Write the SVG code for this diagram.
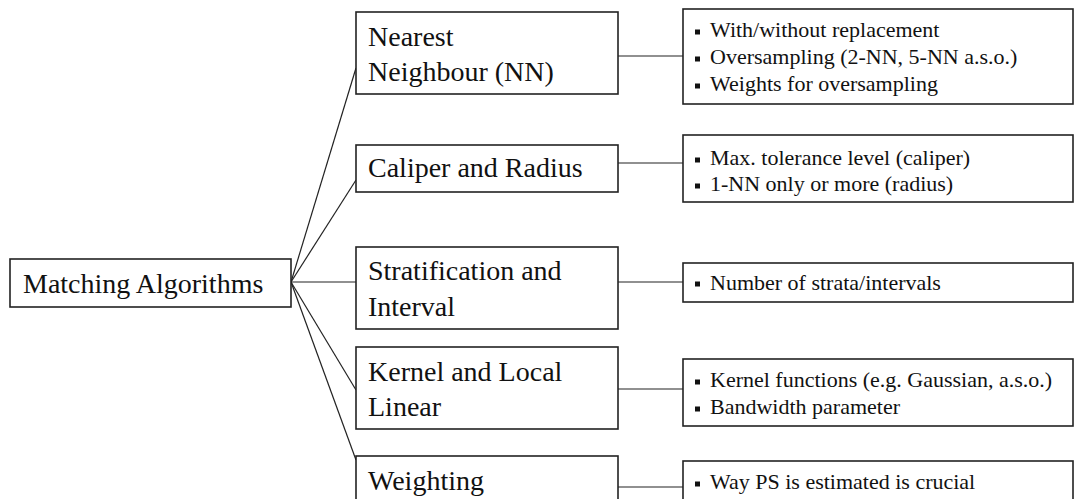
<svg xmlns="http://www.w3.org/2000/svg" width="1074" height="499" viewBox="0 0 1074 499">
<style>
.box{fill:#fff;stroke:#222;stroke-width:1.6}
.t{font-family:"Liberation Serif","Times New Roman",serif;fill:#111}
.m{font-size:28px}
.s{font-size:22px}
.c{stroke:#222;stroke-width:1.2;fill:none}
.b{fill:#111}
</style>
<defs>
<rect id="bul" width="5" height="5" class="b"/>
</defs>
<rect width="1074" height="499" fill="#fff"/>
<g id="connectors">
<line class="c" x1="291" y1="282" x2="356" y2="68"/>
<line class="c" x1="291" y1="282" x2="356" y2="180"/>
<line class="c" x1="291" y1="282" x2="356" y2="282"/>
<line class="c" x1="291" y1="282" x2="356" y2="390"/>
<line class="c" x1="291" y1="282" x2="356" y2="460"/>
<line class="c" x1="618" y1="56" x2="683" y2="56"/>
<line class="c" x1="618" y1="163" x2="683" y2="163"/>
<line class="c" x1="618" y1="282" x2="683" y2="282"/>
<line class="c" x1="618" y1="389" x2="683" y2="389"/>
<line class="c" x1="618" y1="487" x2="683" y2="487"/>
</g>
<g id="root">
<rect class="box" x="10" y="259" width="281" height="48"/>
<text class="t m" x="23" y="293">Matching Algorithms</text>
</g>
<g id="nn">
<rect class="box" x="356" y="12" width="262" height="82"/>
<text class="t m" x="368" y="46">Nearest</text>
<text class="t m" x="368" y="81">Neighbour (NN)</text>
</g>
<g id="caliper">
<rect class="box" x="356" y="145" width="262" height="47"/>
<text class="t m" x="368" y="177">Caliper and Radius</text>
</g>
<g id="strat">
<rect class="box" x="356" y="247" width="262" height="82"/>
<text class="t m" x="368" y="280">Stratification and</text>
<text class="t m" x="368" y="316">Interval</text>
</g>
<g id="kernel">
<rect class="box" x="356" y="347" width="262" height="82"/>
<text class="t m" x="368" y="381">Kernel and Local</text>
<text class="t m" x="368" y="416">Linear</text>
</g>
<g id="weighting">
<rect class="box" x="356" y="456" width="262" height="60"/>
<text class="t m" x="368" y="490">Weighting</text>
</g>
<g id="nn-details">
<rect class="box" x="683" y="9" width="390" height="95"/>
<use href="#bul" x="695" y="29.5"/>
<text class="t s" x="710" y="37">With/without replacement</text>
<use href="#bul" x="695" y="56.5"/>
<text class="t s" x="710" y="64">Oversampling (2-NN, 5-NN a.s.o.)</text>
<use href="#bul" x="695" y="83.5"/>
<text class="t s" x="710" y="91">Weights for oversampling</text>
</g>
<g id="caliper-details">
<rect class="box" x="683" y="135" width="390" height="67"/>
<use href="#bul" x="695" y="157.5"/>
<text class="t s" x="710" y="165">Max. tolerance level (caliper)</text>
<use href="#bul" x="695" y="183.5"/>
<text class="t s" x="710" y="191">1-NN only or more (radius)</text>
</g>
<g id="strat-details">
<rect class="box" x="683" y="263" width="390" height="39"/>
<use href="#bul" x="695" y="281.5"/>
<text class="t s" x="710" y="289.5">Number of strata/intervals</text>
</g>
<g id="kernel-details">
<rect class="box" x="683" y="359" width="390" height="67"/>
<use href="#bul" x="695" y="379.5"/>
<text class="t s" x="710" y="387">Kernel functions (e.g. Gaussian, a.s.o.)</text>
<use href="#bul" x="695" y="406.5"/>
<text class="t s" x="710" y="414">Bandwidth parameter</text>
</g>
<g id="weighting-details">
<rect class="box" x="683" y="461" width="390" height="60"/>
<use href="#bul" x="695" y="481.5"/>
<text class="t s" x="710" y="489">Way PS is estimated is crucial</text>
</g>
</svg>
